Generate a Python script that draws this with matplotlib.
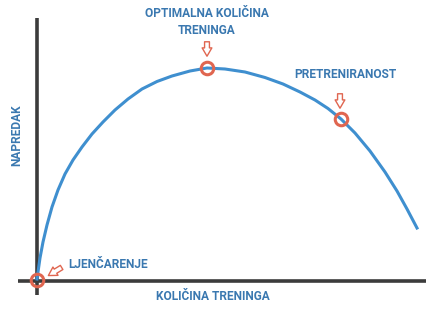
import matplotlib.pyplot as plt
from matplotlib.patches import FancyArrowPatch

# training amount vs. progress
trening = [0, 1, 3, 6, 10, 15, 21, 28, 36, 45, 55, 66, 78, 91, 105, 120, 135,
           153, 170, 188, 208, 228, 246, 263, 278, 291, 304, 318, 333, 348, 360, 370, 380]
napredak = [1, 8, 22, 38, 55, 73, 90, 106, 120, 133, 146, 158, 170, 181, 191, 198.5, 204,
            209, 212, 211, 208, 202.5, 196, 188, 180, 171.5, 161, 147, 129, 108, 89, 71, 52]

# marked points
tocke_x = [0, 170, 304]
tocke_y = [0, 212, 161]
oznake = ["LJENČARENJE", "OPTIMALNA KOLIČINA\nTRENINGA", "PRETRENIRANOST"]
os_x = "KOLIČINA TRENINGA"
os_y = "NAPREDAK"

blue = "#3f8fcf"
red = "#e06650"
txt = "#3a78b0"
axis_c = "#3c3c3c"

plt.rcParams['font.family'] = ['Liberation Sans Narrow', 'Roboto', 'DejaVu Sans']

fig = plt.figure(figsize=(4.27, 3.15), dpi=100)
ax = fig.add_axes([0, 0, 1, 1])
ax.set_xlim(-37, 390)
ax.set_ylim(-35, 280)
ax.axis('off')

# axes drawn by hand
ax.plot([0, 0], [-15, 262], color=axis_c, lw=2.6, solid_capstyle='butt', zorder=2)
ax.plot([-19, 390], [-1, -1], color=axis_c, lw=2.6, solid_capstyle='butt', zorder=2)

ax.plot(trening, napredak, color=blue, lw=2.2, zorder=3, solid_joinstyle='round')

ax.plot(tocke_x, tocke_y, 'o', ls='none', ms=9, mfc='none', mec=red, mew=2.2, zorder=4)


def arrow(x0, y0, x1, y1):
    a = FancyArrowPatch((x0, y0), (x1, y1),
                        arrowstyle='simple,head_width=7,head_length=6,tail_width=3.5',
                        fc='white', ec=red, lw=1.0, zorder=5, mutation_scale=1)
    ax.add_patch(a)


arrow(170, 241, 170, 221)
arrow(303, 189, 303, 169)
arrow(27, 14, 9, 3)

kw = dict(color=txt, fontweight='bold', fontsize=8.6)
ax.text(170, 258, oznake[1], ha='center', va='center', linespacing=1.35, **kw)
ax.text(308, 205, oznake[2], ha='center', va='center', **kw)
ax.text(31, 15, oznake[0], ha='left', va='center', **kw)
ax.text(176, -17, os_x, ha='center', va='center', **kw)
ax.text(-20, 145, os_y, ha='center', va='center', rotation=90, **kw)

fig.savefig('out.png', dpi=100)
